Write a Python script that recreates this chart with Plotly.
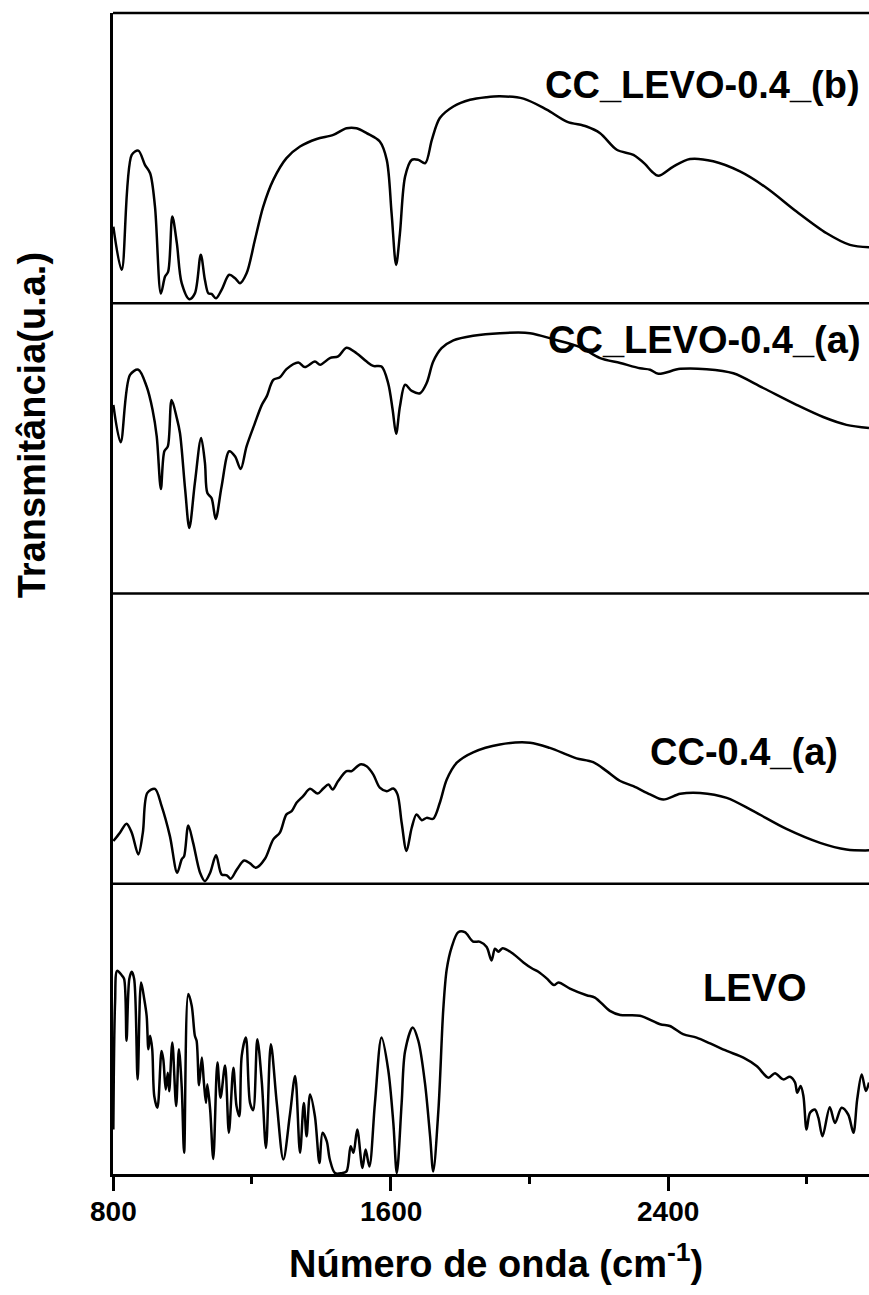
import plotly.graph_objects as go

# ---------------- data ----------------
# Panel 1 (top): CC_LEVO-0.4_(b)
wn_levo_b = [801, 825, 854, 873, 892, 907, 921, 938, 950, 959, 971, 984, 998, 1020, 1036,
             1053, 1065, 1075, 1084, 1097, 1113, 1135, 1152, 1166, 1185, 1209, 1233, 1262,
             1300, 1339, 1387, 1435, 1473, 1502, 1531, 1569, 1589, 1603, 1616, 1627, 1642,
             1661, 1680, 1700, 1719, 1742, 1781, 1829, 1877, 1915, 1983, 2050, 2108, 2165,
             2204, 2252, 2300, 2333, 2353, 2372, 2415, 2463, 2530, 2607, 2684, 2770, 2857,
             2924, 2979]
tr_levo_b = [26.4, 11.5, 51.1, 52.6, 47.7, 44.8, 33.3, 3.4, 9.2, 10.9, 29.9, 20.7, 6.9, 1.4,
             3.4, 16.7, 8.0, 3.4, 3.2, 1.7, 4.6, 9.8, 8.6, 6.9, 10.3, 21.8, 33.3, 42.5, 50.0,
             54.0, 56.6, 58.0, 60.3, 60.3, 58.6, 55.7, 49.4, 31.0, 13.2, 24.1, 43.7, 49.4,
             49.4, 48.3, 56.3, 63.8, 67.8, 70.1, 71.0, 71.3, 70.5, 66.7, 62.6, 60.9, 58.6,
             52.9, 51.1, 48.0, 45.4, 43.9, 47.1, 49.7, 48.9, 45.4, 39.7, 31.6, 24.1, 20.1,
             19.3]

# Panel 2: CC_LEVO-0.4_(a)
wn_levo_a = [801, 822, 849, 873, 897, 914, 926, 938, 948, 958, 969, 984, 993, 1008, 1020,
             1036, 1054, 1065, 1072, 1084, 1096, 1113, 1135, 1152, 1168, 1185, 1209, 1229,
             1243, 1262, 1281, 1300, 1334, 1353, 1382, 1397, 1425, 1449, 1473, 1502, 1531,
             1550, 1574, 1593, 1606, 1616, 1627, 1642, 1661, 1685, 1704, 1723, 1747, 1781,
             1838, 1915, 2002, 2069, 2146, 2204, 2262, 2319, 2348, 2372, 2435, 2511, 2588,
             2674, 2770, 2847, 2914, 2979]
tr_levo_a = [65.0, 52.1, 75.3, 77.1, 71.3, 63.3, 54.1, 36.0, 49.0, 50.7, 66.7, 60.4, 55.3,
             35.8, 22.6, 38.1, 53.6, 45.0, 34.6, 32.9, 25.7, 36.9, 49.0, 47.2, 42.9, 50.7,
             58.7, 65.0, 67.9, 73.6, 74.5, 77.3, 79.6, 78.0, 79.9, 78.8, 81.1, 81.7, 84.7,
             82.8, 79.9, 78.4, 78.2, 72.5, 63.3, 55.0, 64.4, 71.9, 69.8, 69.0, 72.5, 79.9,
             84.5, 87.2, 88.8, 89.7, 89.7, 87.6, 84.9, 81.1, 79.4, 77.6, 77.1, 75.7, 77.4,
             77.3, 75.9, 70.8, 65.0, 60.8, 58.1, 57.0]

# Panel 3: CC-0.4_(a)
wn_cc = [801, 820, 839, 854, 873, 886, 899, 921, 940, 964, 985, 998, 1005, 1017, 1031, 1051,
         1065, 1080, 1097, 1113, 1128, 1139, 1157, 1178, 1195, 1212, 1238, 1262, 1281, 1300,
         1315, 1329, 1348, 1368, 1390, 1406, 1421, 1433, 1449, 1473, 1488, 1512, 1531, 1550,
         1569, 1589, 1608, 1620, 1632, 1646, 1661, 1675, 1690, 1704, 1723, 1742, 1762, 1791,
         1838, 1915, 2002, 2059, 2108, 2136, 2184, 2223, 2262, 2300, 2348, 2386, 2435, 2492,
         2569, 2646, 2741, 2838, 2914, 2979]
tr_cc = [14.7, 17.6, 20.7, 17.6, 10.1, 17.6, 31.3, 32.7, 26.8, 16.4, 3.8, 8.4, 9.5, 20.1,
         14.1, 3.8, 0.9, 3.8, 9.8, 3.2, 2.9, 1.7, 4.9, 8.0, 7.0, 5.5, 8.6, 15.3, 17.6, 23.9,
         25.0, 27.9, 30.2, 32.7, 31.1, 32.8, 34.2, 32.5, 35.4, 38.8, 38.8, 41.1, 40.5, 37.7,
         33.1, 31.9, 32.8, 30.8, 21.0, 11.3, 19.3, 23.9, 21.9, 22.7, 22.4, 27.9, 35.9, 41.7,
         45.3, 48.0, 48.6, 46.8, 44.5, 43.2, 41.9, 38.8, 35.4, 33.6, 30.8, 29.0, 31.0, 31.3,
         29.6, 25.0, 18.9, 14.1, 11.8, 11.5]

# Panel 4 (bottom): LEVO
wn_levo = [801, 806, 812, 825, 832, 839, 847, 854, 861, 871, 881, 890, 897, 902, 907, 913,
           919, 928, 940, 945, 952, 958, 962, 971, 982, 990, 998, 1005, 1017, 1027, 1036,
           1041, 1048, 1056, 1062, 1068, 1072, 1080, 1089, 1101, 1110, 1123, 1134, 1147,
           1156, 1164, 1171, 1183, 1195, 1204, 1216, 1229, 1241, 1255, 1272, 1291, 1310,
           1325, 1339, 1350, 1358, 1368, 1382, 1395, 1404, 1416, 1425, 1440, 1459, 1473,
           1485, 1493, 1504, 1519, 1528, 1539, 1555, 1574, 1593, 1608, 1618, 1632, 1642,
           1664, 1680, 1699, 1714, 1723, 1738, 1752, 1762, 1776, 1795, 1814, 1838, 1858,
           1877, 1891, 1901, 1911, 1923, 1954, 1983, 2007, 2026, 2050, 2071, 2084, 2117,
           2165, 2189, 2232, 2262, 2319, 2377, 2405, 2443, 2482, 2521, 2569, 2617, 2655,
           2689, 2708, 2732, 2751, 2766, 2772, 2782, 2790, 2799, 2809, 2823, 2833, 2845,
           2866, 2881, 2900, 2919, 2934, 2945, 2958, 2970, 2979]
tr_levo = [15.3, 59.1, 70.0, 68.5, 67.2, 45.9, 67.2, 69.7, 67.2, 32.6, 66.0, 60.3, 54.5,
           43.0, 47.6, 43.0, 26.8, 22.8, 42.4, 39.5, 29.1, 34.9, 28.5, 45.3, 23.4, 43.0,
           30.1, 7.3, 62.0, 57.9, 47.6, 45.9, 30.6, 40.1, 31.5, 24.5, 30.9, 22.2, 5.2, 38.4,
           26.3, 37.4, 14.2, 36.6, 23.4, 19.9, 40.7, 47.0, 24.5, 22.0, 46.4, 31.5, 9.0, 44.7,
           24.5, 5.0, 20.5, 33.8, 7.3, 24.5, 13.0, 27.4, 19.9, 3.8, 14.2, 11.3, 5.0, 0.3, 0.3,
           0.9, 9.6, 7.3, 15.3, 2.1, 8.4, 2.6, 24.5, 47.0, 36.1, 17.6, 0.3, 24.5, 42.4, 50.5,
           45.9, 31.5, 13.0, 0.9, 22.2, 56.8, 70.6, 78.1, 83.3, 83.3, 80.1, 80.0, 78.2, 73.6,
           77.6, 76.6, 77.8, 75.8, 72.9, 70.9, 69.7, 67.4, 65.1, 66.0, 63.9, 61.6, 60.8, 56.2,
           54.8, 54.5, 51.6, 51.0, 48.2, 47.0, 45.0, 42.4, 40.1, 37.2, 33.2, 34.7, 32.6, 33.5,
           31.5, 28.0, 30.3, 26.8, 15.3, 21.1, 22.2, 19.4, 13.0, 23.0, 17.6, 22.8, 20.5, 14.2,
           25.7, 34.3, 28.6, 31.5]

labels = ["CC_LEVO-0.4_(b)", "CC_LEVO-0.4_(a)", "CC-0.4_(a)", "LEVO"]
x_ticks = [800, 1600, 2400]
x_minor_ticks = [1200, 2000, 2800]
x_range = [800, 2979]

# ---------------- figure ----------------
FONT = "Liberation Sans, Arial, sans-serif"
series = [(wn_levo_b, tr_levo_b), (wn_levo_a, tr_levo_a), (wn_cc, tr_cc), (wn_levo, tr_levo)]
yaxes_names = ["y4", "y3", "y2", "y"]  # top -> bottom

fig = go.Figure()
for (xs, ys), ya in zip(series, yaxes_names):
    fig.add_trace(go.Scatter(x=xs, y=ys, mode="lines", xaxis="x", yaxis=ya,
                             line=dict(color="black", width=2.5, shape="spline", smoothing=0.9),
                             showlegend=False, hoverinfo="skip"))

axis_line = dict(showline=True, linecolor="black", linewidth=2.5)
yax_common = dict(range=[0, 100], showticklabels=False, ticks="", showgrid=False,
                  zeroline=False, fixedrange=True, anchor="x", **axis_line)

fig.update_layout(
    width=869, height=1295,
    margin=dict(l=113, r=0, t=13, b=121),
    paper_bgcolor="white", plot_bgcolor="white",
    font=dict(family=FONT, color="black"),
    xaxis=dict(range=x_range, tickmode="array", tickvals=x_ticks, showticklabels=False,
               ticks="outside", ticklen=14, tickwidth=2.5, tickcolor="black",
               minor=dict(tickvals=x_minor_ticks, ticks="outside", ticklen=7,
                          tickwidth=2.5, tickcolor="black"),
               showgrid=False, zeroline=False, anchor="y", **axis_line),
    yaxis=dict(domain=[0.0, 0.25], **yax_common),
    yaxis2=dict(domain=[0.25, 0.5], **yax_common),
    yaxis3=dict(domain=[0.5, 0.75], **yax_common),
    yaxis4=dict(domain=[0.75, 1.0], **yax_common),
)

# panel frame lines (separators and top border)
for yy in [0.25, 0.5, 0.75, 1.0]:
    fig.add_shape(type="line", xref="paper", yref="paper", x0=0, x1=1, y0=yy, y1=yy,
                  line=dict(color="black", width=2.5))

bold = dict(family=FONT, color="black", weight="bold")

# x tick labels placed on the x scale
for t in x_ticks:
    fig.add_annotation(text=str(t), xref="x", yref="paper", x=t, y=-0.0327,
                       xanchor="center", yanchor="middle", showarrow=False,
                       font=dict(size=28, **bold))

ann = [
    dict(text=labels[0], x=0.9907, y=0.938, xanchor="right", yanchor="middle"),
    dict(text=labels[1], x=0.992, y=0.718, xanchor="right", yanchor="middle"),
    dict(text=labels[2], x=0.9616, y=0.3635, xanchor="right", yanchor="middle"),
    dict(text=labels[3], x=0.919, y=0.160, xanchor="right", yanchor="middle"),
]
for a in ann:
    fig.add_annotation(xref="paper", yref="paper", showarrow=False,
                       font=dict(size=38, **bold), **a)

fig.add_annotation(text="Número de onda (cm<sup>-1</sup>)", xref="paper", yref="paper",
                   x=0.506, y=-0.075, xanchor="center", yanchor="middle", showarrow=False,
                   font=dict(size=38, **bold))
fig.add_annotation(text="Transmitância(u.a.)", xref="paper", yref="paper",
                   x=-0.107, y=0.645, xanchor="center", yanchor="middle", showarrow=False,
                   textangle=-90, font=dict(size=38, **bold))

fig.write_html("out.html")
